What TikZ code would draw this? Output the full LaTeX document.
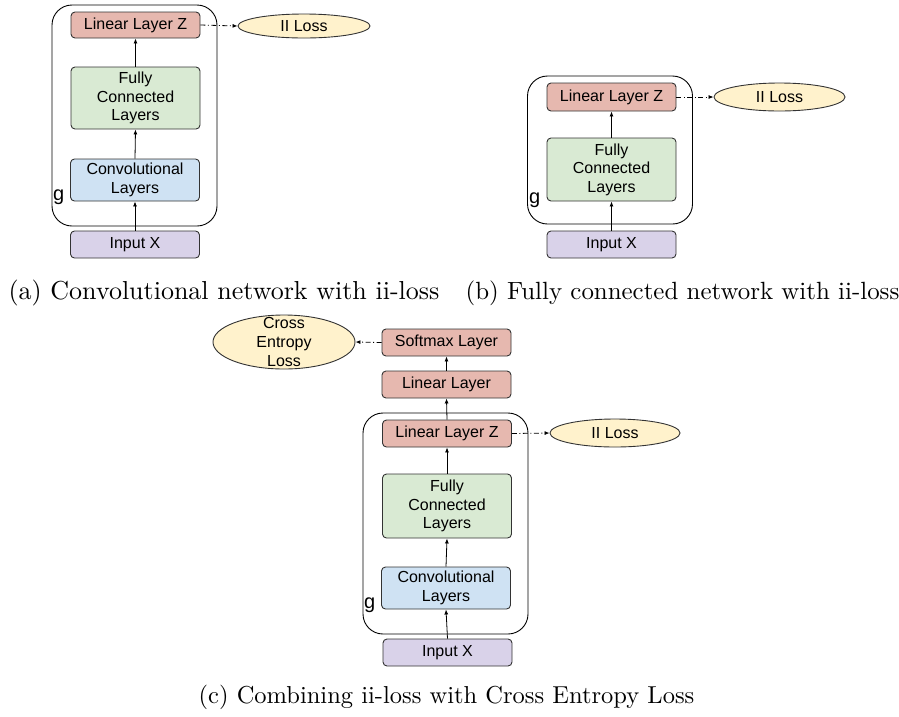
\documentclass[tikz,border=0pt]{standalone}
\usepackage{fontspec}
\newfontfamily\diafont{Liberation Sans}
\usetikzlibrary{shapes.geometric,arrows.meta}

\definecolor{redfill}{HTML}{E6B8AF}
\definecolor{greenfill}{HTML}{D9EAD3}
\definecolor{bluefill}{HTML}{CFE2F3}
\definecolor{purplefill}{HTML}{D9D2E9}
\definecolor{yellowfill}{HTML}{FFF2CC}
\definecolor{edge}{HTML}{333333}

\tikzset{
  layer/.style={draw=edge, line width=0.9pt, rounded corners=4pt, align=center,
    inner sep=0pt, minimum width=129pt, font=\diafont\fontsize{16}{18.5}\selectfont},
  lossell/.style={ellipse, draw=edge, line width=0.9pt, fill=yellowfill, inner sep=0pt,
    font=\diafont\fontsize{16}{19}\selectfont},
  txt/.style={inner sep=0pt, align=center, font=\diafont\fontsize{16}{19}\selectfont},
  gbox/.style={draw=black, line width=0.9pt, rounded corners=20pt, inner sep=0pt},
  glabel/.style={inner sep=0pt, font=\diafont\fontsize{20}{22}\selectfont},
  arr/.style={draw=black, line width=0.8pt, -{Latex[length=5pt,width=4pt]}},
  lossarr/.style={draw=black, line width=0.8pt, dash pattern=on 5pt off 2.5pt on 1pt off 2.5pt,
    -{Latex[length=5pt,width=4pt]}},
  caption/.style={inner sep=0pt}
}

\begin{document}
\begin{tikzpicture}[x=1pt, y=-1pt]
\useasboundingbox (0,0) rectangle (899,716);

% (a) convolutional network with ii-loss
\node[gbox, minimum width=165pt, minimum height=221pt] (a-g) at (134.5,115.5) {};
\node[glabel, anchor=south west] (a-gl) at (53,205) {g};
\node[layer, fill=redfill, minimum height=26pt] (a-lz) at (135.5,25) {Linear Layer Z};
\node[layer, fill=greenfill, minimum height=62pt] (a-fc) at (135.5,98) {Fully\\Connected\\Layers};
\node[layer, fill=bluefill, minimum height=42pt] (a-conv) at (135,180) {Convolutional\\Layers};
\node[layer, fill=purplefill, minimum height=27pt] (a-in) at (135,244.5) {Input X};
\node[lossell, minimum width=132pt, minimum height=24pt] (a-loss) at (304,26) {II Loss};
\draw[arr] (a-in.north) -- (a-conv.south);
\draw[arr] (a-conv.north) -- (a-fc.south);
\draw[arr] (a-fc.north) -- (a-lz.south);
\draw[lossarr] (a-lz.east) -- (a-loss.west);

% (b) fully connected network with ii-loss
\node[gbox, minimum width=165pt, minimum height=148pt] (b-g) at (610,150) {};
\node[glabel, anchor=south west] (b-gl) at (529,208) {g};
\node[layer, fill=redfill, minimum height=28pt] (b-lz) at (611.5,97) {Linear Layer Z};
\node[layer, fill=greenfill, minimum height=63pt] (b-fc) at (611.5,169.5) {Fully\\Connected\\Layers};
\node[layer, fill=purplefill, minimum height=27pt] (b-in) at (611.5,244.5) {Input X};
\node[lossell, minimum width=131pt, minimum height=28pt] (b-loss) at (779.5,97) {II Loss};
\draw[arr] (b-in.north) -- (b-fc.south);
\draw[arr] (b-fc.north) -- (b-lz.south);
\draw[lossarr] (b-lz.east) -- (b-loss.west);

% (c) ii-loss combined with cross entropy loss
\node[gbox, minimum width=165pt, minimum height=221pt] (c-g) at (445.5,523.5) {};
\node[glabel, anchor=south west] (c-gl) at (364,613) {g};
\node[layer, fill=redfill, minimum height=27pt] (c-sm) at (446.5,342.5) {Softmax Layer};
\node[layer, fill=redfill, minimum height=27pt] (c-lin) at (446.5,384.5) {Linear Layer};
\node[layer, fill=redfill, minimum height=27pt] (c-lz) at (447,433.5) {Linear Layer Z};
\node[layer, fill=greenfill, minimum height=64pt] (c-fc) at (447,506) {Fully\\Connected\\Layers};
\node[layer, fill=bluefill, minimum height=42pt] (c-conv) at (446,588) {Convolutional\\Layers};
\node[layer, fill=purplefill, minimum height=27pt] (c-in) at (447.5,652.5) {Input X};
\node[lossell, minimum width=130pt, minimum height=28pt] (c-loss) at (615,433) {II Loss};
\node[lossell, minimum width=142pt, minimum height=54pt] (c-ce) at (284,342) {};
\node[txt] (c-cet) at (284,342) {Cross\\Entropy\\Loss};
\draw[arr] (c-in.north) -- (c-conv.south);
\draw[arr] (c-conv.north) -- (c-fc.south);
\draw[arr] (c-fc.north) -- (c-lz.south);
\draw[arr] (c-lz.north) -- (c-lin.south);
\draw[arr] (c-lin.north) -- (c-sm.south);
\draw[lossarr] (c-lz.east) -- (c-loss.west);
\draw[lossarr] (c-sm.west) -- (c-ce.east);

% sub-figure captions
\node[caption, scale=2.6] (cap-a) at (224,293) {(a) Convolutional network with ii-loss};
\node[caption, scale=2.49] (cap-b) at (682.5,293) {(b) Fully connected network with ii-loss};
\node[caption, scale=2.45] (cap-c) at (446.5,697) {(c) Combining ii-loss with Cross Entropy Loss};
\end{tikzpicture}
\end{document}
